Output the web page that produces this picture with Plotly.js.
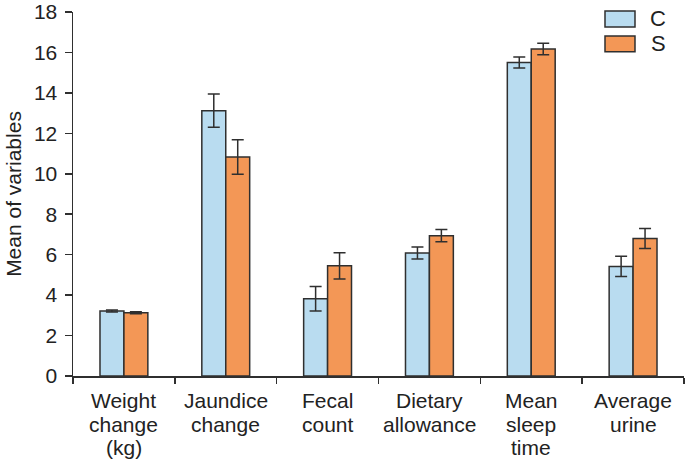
<!DOCTYPE html>
<html>
<head>
<meta charset="utf-8">
<script src="https://cdn.plot.ly/plotly-3.0.1.min.js"></script>
<style>html,body{margin:0;padding:0;background:#fff;}#chart{width:685px;height:464px;}</style>
</head>
<body>
<div id="chart"></div>
<script>
const categories = ["Weight change (kg)", "Jaundice change", "Fecal count", "Dietary allowance", "Mean sleep time", "Average urine"];
const categoryLines = [["Weight", "change", "(kg)"], ["Jaundice", "change"], ["Fecal", "count"], ["Dietary", "allowance"], ["Mean", "sleep", "time"], ["Average", "urine"]];
const seriesNames = ["C", "S"];
const valuesC = [3.21, 13.12, 3.82, 6.08, 15.5, 5.42];
const errorsC = [0.05, 0.82, 0.6, 0.3, 0.27, 0.5];
const valuesS = [3.13, 10.83, 5.45, 6.94, 16.17, 6.8];
const errorsS = [0.05, 0.85, 0.65, 0.3, 0.28, 0.5];
const yTicks = [0, 2, 4, 6, 8, 10, 12, 14, 16, 18];

const colors = ["#B9DCF0", "#F39756"];
const edge = "#2f2f2f";
const textColor = "#222";
const font = "Arial, 'Liberation Sans', sans-serif";
const fs = 21;

function barTrace(name, y, err, color) {
  return {
    type: "bar", name: name, x: categories, y: y,
    marker: {color: color, line: {color: edge, width: 1.5}},
    error_y: {type: "data", array: err, visible: true, color: edge, thickness: 1.5, width: 6},
    showlegend: false
  };
}

const data = [
  barTrace(seriesNames[0], valuesC, errorsC, colors[0]),
  barTrace(seriesNames[1], valuesS, errorsS, colors[1])
];

const legendBoxes = [
  {x0: 0.8707, x1: 0.9198, y0: 0.959, y1: 1.0027},
  {x0: 0.8707, x1: 0.9198, y0: 0.8907, y1: 0.934}
];
const shapes = legendBoxes.map((b, i) => ({
  type: "rect", xref: "paper", yref: "paper", x0: b.x0, x1: b.x1, y0: b.y0, y1: b.y1,
  fillcolor: colors[i], line: {color: edge, width: 1.5}
}));
const annotations = seriesNames.map((n, i) => ({
  xref: "paper", yref: "paper", x: 0.958, y: (legendBoxes[i].y0 + legendBoxes[i].y1) / 2,
  text: n, showarrow: false, xanchor: "center", yanchor: "middle",
  font: {family: font, size: 22, color: textColor}
}));

// category labels, one annotation per line for the tighter line spacing of the original
const lineStep = 23.5;
categoryLines.forEach((lines, ci) => {
  lines.forEach((ln, li) => {
    annotations.push({
      xref: "x", yref: "y", x: categories[ci], y: 0,
      text: ln, showarrow: false, xanchor: "center", yanchor: "middle",
      yshift: -(24.5 + li * lineStep),
      font: {family: font, size: fs, color: textColor}
    });
  });
});

const layout = {
  width: 685, height: 464,
  margin: {l: 73, r: 1, t: 12, b: 88},
  paper_bgcolor: "#fff", plot_bgcolor: "#fff",
  barmode: "group", bargap: 0.53, bargroupgap: 0,
  showlegend: false,
  font: {family: font, color: textColor},
  xaxis: {
    type: "category", showline: true, linecolor: edge, linewidth: 1.5,
    ticks: "outside", tickson: "boundaries", ticklen: 6, tickcolor: edge, tickwidth: 1.5,
    showticklabels: false, showgrid: false, zeroline: false
  },
  yaxis: {
    range: [0, 18], tickvals: yTicks, ticktext: yTicks.map(String),
    showline: true, linecolor: edge, linewidth: 1.5,
    ticks: "outside", ticklen: 7, tickcolor: edge, tickwidth: 1.5,
    ticklabeloverflow: "allow", ticklabelstandoff: 3,
    tickfont: {family: font, size: fs, color: textColor}, showgrid: false, zeroline: false,
    title: {text: "Mean of variables", font: {family: font, size: fs, color: textColor}, standoff: 6}
  },
  shapes: shapes,
  annotations: annotations
};

Plotly.newPlot("chart", data, layout, {displayModeBar: false, staticPlot: true});
</script>
</body>
</html>
